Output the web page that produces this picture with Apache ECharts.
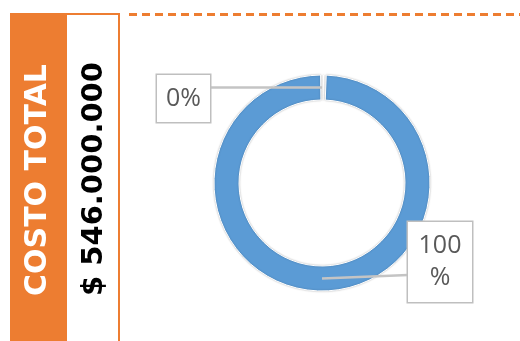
<!DOCTYPE html>
<html><head><meta charset="utf-8">
<script src="https://cdn.jsdelivr.net/npm/echarts@6/dist/echarts.min.js"></script>
<style>html,body{margin:0;padding:0;background:#fff}#c{width:520px;height:341px}</style>
</head><body><div id="c"></div>
<script>
var categories = ["Ejecutado", "Por ejecutar"];
var values = [0, 546000000];
var titleText = "COSTO TOTAL";
var totalText = "$ 546.000.000";

var chart = echarts.init(document.getElementById('c'), null, {renderer: 'canvas'});

var labelBoxes = [
  {x: 183.5, y: 98.5, w: 53, h: 47, lh: 26, side: 1, dy: -11},
  {x: 440, y: 262, w: 64, h: 80, lh: 32, side: -1, dy: 13}
];

var ringData = categories.map(function (name, i) {
  return {name: name, value: values[i]};
});
var labelData = categories.map(function (name, i) {
  var b = labelBoxes[i];
  return {
    name: name,
    value: values[i],
    label: {width: b.w - 14, height: b.h, lineHeight: b.lh, padding: [0, 7, 0, 7]}
  };
});

function anchorOf(i) {
  try {
    var lay = chart.getModel().getSeriesByIndex(1).getData().getItemLayout(i);
    var mid = (lay.startAngle + lay.endAngle) / 2;
    var r = (lay.r + lay.r0) / 2;
    return [lay.cx + r * Math.cos(mid), lay.cy + r * Math.sin(mid)];
  } catch (e) { return null; }
}

var common = {
  type: 'pie',
  center: [322, 183],
  radius: [83, 108],
  startAngle: 90,
  clockwise: true,
  stillShowZeroSum: true,
  minShowLabelAngle: 0,
  avoidLabelOverlap: false,
  emphasis: {disabled: true}
};

chart.setOption({
  animation: false,
  color: ['#5B9BD5', '#5B9BD5'],
  graphic: [
    {type: 'rect', shape: {x: 10, y: 13, width: 56, height: 340}, style: {fill: '#ED7D31'}},
    {type: 'rect', shape: {x: 66, y: 14, width: 53, height: 340}, style: {fill: '#fff', stroke: '#ED7D31', lineWidth: 2}},
    {type: 'line', shape: {x1: 129, y1: 14.5, x2: 520, y2: 14.5}, style: {stroke: '#ED7D31', lineWidth: 3, lineDash: [8, 5]}},
    {type: 'text', x: 38.5, y: 180, rotation: Math.PI / 2,
      style: {text: titleText, fill: '#fff', font: 'bold 30px "DejaVu Sans"', textAlign: 'center', textVerticalAlign: 'middle'}},
    {type: 'text', x: 94, y: 179, rotation: Math.PI / 2,
      style: {text: totalText, fill: '#000', font: 'bold 29px "DejaVu Sans"', textAlign: 'center', textVerticalAlign: 'middle'}}
  ],
  series: [
    Object.assign({}, common, {
      z: 2,
      padAngle: 1.5,
      itemStyle: {borderColor: '#fff', borderWidth: 1, shadowBlur: 2, shadowColor: 'rgba(0,0,0,0.25)'},
      label: {show: false},
      labelLine: {show: false},
      data: ringData
    }),
    Object.assign({}, common, {
      z: 5,
      silent: true,
      itemStyle: {color: 'rgba(0,0,0,0)', borderWidth: 0},
      label: {
        show: true,
        formatter: function (p) { return Math.round(p.percent) + '%'; },
        fontFamily: 'Open Sans',
        fontSize: 25,
        color: '#595959',
        backgroundColor: '#fff',
        borderColor: '#BFBFBF',
        borderWidth: 1.5,
        overflow: 'breakAll',
        align: 'center',
        verticalAlign: 'middle'
      },
      labelLine: {show: true, showAbove: true, lineStyle: {color: '#C4C4C4', width: 2.5}},
      labelLayout: function (p) {
        var b = labelBoxes[p.dataIndex];
        var out = {x: b.x, y: b.y, align: 'center', verticalAlign: 'middle'};
        var a = anchorOf(p.dataIndex);
        if (a) {
          out.labelLinePoints = [a, [b.x + b.side * b.w / 2, b.y + b.dy], [b.x + b.side * b.w / 2, b.y + b.dy]];
        }
        return out;
      },
      data: labelData
    })
  ]
});
</script></body></html>
